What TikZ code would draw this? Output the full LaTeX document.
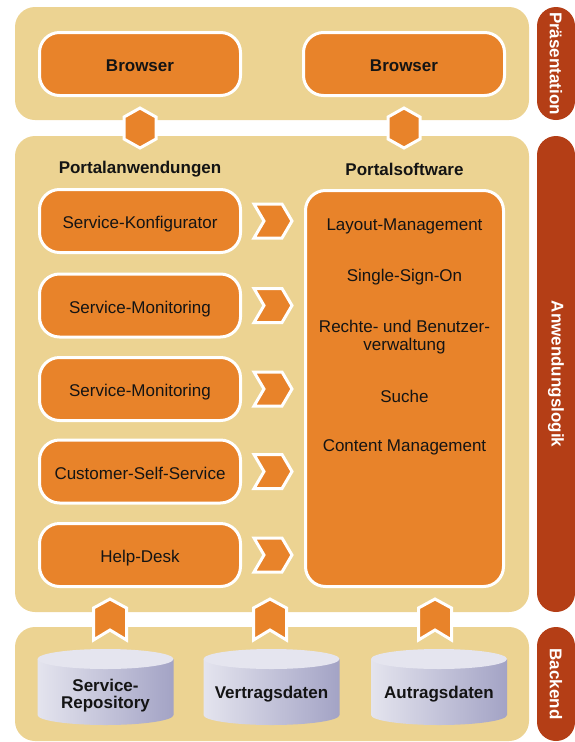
\documentclass[tikz,border=0pt]{standalone}
\usepackage{fontspec}
\setmainfont{Liberation Sans}
\usetikzlibrary{calc}

\definecolor{panelbg}{RGB}{236,211,146}
\definecolor{boxorange}{RGB}{232,131,42}
\definecolor{pillred}{RGB}{180,62,22}
\definecolor{cylleft}{RGB}{228,228,238}
\definecolor{cylright}{RGB}{163,163,197}
\definecolor{cyltop}{RGB}{229,229,239}
\definecolor{txt}{RGB}{20,20,20}

\tikzset{
  panel/.style={fill=panelbg, rounded corners=20pt, inner sep=0pt, minimum width=514pt},
  pill/.style={fill=pillred, rounded corners=19pt, inner sep=0pt, minimum width=38pt},
  sidelabel/.style={text=white, font=\bfseries\fontsize{17}{20}\selectfont, rotate=-90, inner sep=0pt},
  appbox/.style={fill=boxorange, draw=white, line width=3pt, rounded corners=20pt,
    minimum width=201pt, minimum height=63pt, inner sep=0pt, text=txt,
    text height=15.5pt, text depth=0pt, font=\fontsize{17}{20}\selectfont},
  boldbox/.style={appbox, font=\bfseries\fontsize{17}{20}\selectfont},
  title/.style={text=txt, font=\bfseries\fontsize{17}{20}\selectfont, inner sep=0pt},
  feature/.style={text=txt, font=\fontsize{17}{18}\selectfont, align=center, inner sep=0pt},
  dbtext/.style={text=txt, font=\bfseries\fontsize{17}{17}\selectfont, align=center, inner sep=0pt},
  linkshape/.style={fill=boxorange, draw=white, line width=3pt, line join=miter},
  hexlink/.pic={\path[linkshape] (0,-20) -- (16,-11) -- (16,11) -- (0,20) -- (-16,11) -- (-16,-11) -- cycle;},
  chevlink/.pic={\path[linkshape] (-19,-17) -- (9,-17) -- (19,0) -- (9,17) -- (-19,17) -- (-9,0) -- cycle;},
  uplink/.pic={\path[linkshape] (0,-21) -- (16.5,-12) -- (16.5,20) -- (0,10) -- (-16.5,20) -- (-16.5,-12) -- cycle;},
  database/.pic={
    \shade[left color=cylleft, right color=cylright]
      (-68,-35) -- (-68,21) arc[start angle=180, end angle=0, x radius=68, y radius=10]
      -- (68,-35) -- cycle;
    \fill[cyltop] (0,-35) ellipse[x radius=68, y radius=10];
  }
}

\begin{document}
\begin{tikzpicture}[x=1pt, y=-1pt]
\useasboundingbox (0,0) rectangle (575,742);

% layer panels
\node[panel, minimum height=113pt] (pres) at (272,63.5) {};
\node[panel, minimum height=476pt] (logic) at (272,374) {};
\node[panel, minimum height=114pt] (back) at (272,684) {};

% layer captions
\node[pill, minimum height=113pt] (pillpres) at (556,63.5) {};
\node[pill, minimum height=476pt] (pilllogic) at (556,374) {};
\node[pill, minimum height=114pt] (pillback) at (556,684) {};
\node[sidelabel] at (pillpres) {Präsentation};
\node[sidelabel] at (pilllogic) {Anwendungslogik};
\node[sidelabel] at (pillback) {Backend};

% presentation layer
\node[boldbox] (b1) at (140,64) {Browser};
\node[boldbox] (b2) at (404,64) {Browser};

% links between presentation and application logic
\pic at (140,128) {hexlink};
\pic at (404,128) {hexlink};

% application logic
\node[title] (tapps) at (140,169) {Portalanwendungen};
\node[title] (tsoft) at (404.5,169) {Portalsoftware};

\node[appbox] (a1) at (140,221) {Service-Konfigurator};
\node[appbox] (a2) at (140,305.5) {Service-Monitoring};
\node[appbox] (a3) at (140,389) {Service-Monitoring};
\node[appbox] (a4) at (140,471.5) {Customer-Self-Service};
\node[appbox] (a5) at (140,555) {Help-Desk};

\node[appbox, minimum width=198pt, minimum height=396pt] (soft) at (404.5,388.5) {};
\node[feature] (f1) at (404.5,226) {Layout-Management};
\node[feature] (f2) at (404.5,277) {Single-Sign-On};
\node[feature] (f3) at (404.5,337) {Rechte- und Benutzer-\\verwaltung};
\node[feature] (f4) at (404.5,396) {Suche};
\node[feature] (f5) at (404.5,447) {Content Management};

\foreach \n in {a1,a2,a3,a4,a5}
  \pic at ($(\n.east)!0.5!(\n.east -| soft.west)$) {chevlink};

% links between backend and application logic
\pic at (110,620) {uplink};
\pic at (270,620) {uplink};
\pic at (435,620) {uplink};

% backend data stores
\pic at (105.5,694) {database};
\pic at (271.5,694) {database};
\pic at (439,694) {database};
\node[dbtext] (d1) at (105.5,696) {Service-\\Repository};
\node[dbtext] (d2) at (271.5,694) {Vertragsdaten};
\node[dbtext] (d3) at (439,694) {Autragsdaten};
\end{tikzpicture}
\end{document}
